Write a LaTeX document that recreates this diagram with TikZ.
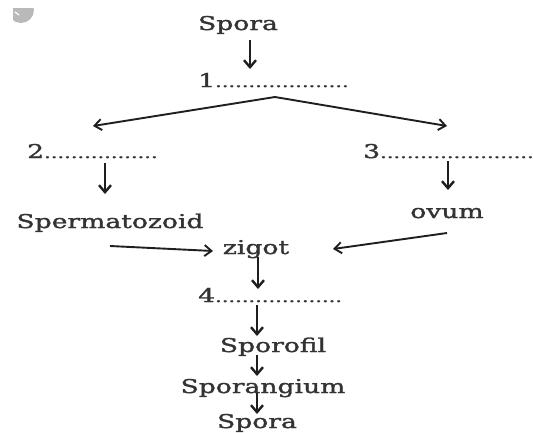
\documentclass[tikz,border=0pt]{standalone}
\usepackage{fontspec}
\setmainfont[FakeBold=1.3]{DejaVu Serif}
\usetikzlibrary{arrows.meta}
\newcommand\wtxt[1]{\scalebox{1.4}[1]{#1}}
\newcommand\dotsN[1]{{\fontsize{15}{18}\selectfont\foreach \i in {1,...,#1}{.}}}
\tikzset{
  lbl/.style={font=\fontsize{19}{22}\selectfont, text=black!80, inner sep=0pt},
  arr/.style={draw=black!88, line width=2.4pt, -{Straight Barb[length=7pt,width=12pt,line width=2.4pt]}},
  sarr/.style={draw=black!88, line width=1.9pt, -{Straight Barb[length=7pt,width=11pt,line width=1.9pt]}}
}
\begin{document}
\begin{tikzpicture}[x=1pt,y=-1pt]
\useasboundingbox (0,0) rectangle (533,432);
% grey corner mark
\begin{scope}
\clip (13,8) rectangle (40,30);
\fill[gray!55] (21,10) circle (13);
\end{scope}
\draw[white, line width=1.2pt, line cap=round] (15,12) -- (19,15);
% labels
\node[lbl, anchor=base] (spora1) at (238,30) {\wtxt{Spora}};
\node[lbl, anchor=base west] (n1) at (198,87) {\wtxt{1\dotsN{20}}};
\node[lbl, anchor=base west] (n2) at (27,158) {\wtxt{2\dotsN{17}}};
\node[lbl, anchor=base west] (n3) at (363,158) {\wtxt{3\dotsN{23}}};
\node[lbl, anchor=base] (sperm) at (110,228) {\wtxt{Spermatozoid}};
\node[lbl, anchor=base] (ovum) at (447,218) {\wtxt{ovum}};
\node[lbl, anchor=base] (zigot) at (256,254) {\wtxt{zigot}};
\node[lbl, anchor=base west] (n4) at (198,302) {\wtxt{4\dotsN{19}}};
\node[lbl, anchor=base] (sporofil) at (273,352) {\wtxt{Sporofil}};
\node[lbl, anchor=base] (sporangium) at (263,393) {\wtxt{Sporangium}};
\node[lbl, anchor=base] (spora2) at (257,428) {\wtxt{Spora}};
% arrow end points
\coordinate (a1s) at (250,40);  \coordinate (a1e) at (250,69);
\coordinate (apex) at (275,97);
\coordinate (l2) at (93,126);   \coordinate (r3) at (447,126);
\coordinate (a3s) at (105,163); \coordinate (a3e) at (105,194);
\coordinate (a4s) at (448,161); \coordinate (a4e) at (448,190);
\coordinate (a5s) at (110,246); \coordinate (a5e) at (213,251);
\coordinate (a6s) at (447,233); \coordinate (a6e) at (333,249);
\coordinate (a7s) at (258,257); \coordinate (a7e) at (258,289);
\coordinate (a8s) at (257,305); \coordinate (a8e) at (257,336);
\coordinate (a9s) at (257,355); \coordinate (a9e) at (257,376);
\coordinate (a10s) at (257,393); \coordinate (a10e) at (257,414);
% connectors
\draw[arr] (a1s) -- (a1e);
\draw[sarr] (apex) -- (l2);
\draw[sarr] (apex) -- (r3);
\draw[arr] (a3s) -- (a3e);
\draw[arr] (a4s) -- (a4e);
\draw[sarr] (a5s) -- (a5e);
\draw[sarr] (a6s) -- (a6e);
\draw[arr] (a7s) -- (a7e);
\draw[arr] (a8s) -- (a8e);
\draw[arr] (a9s) -- (a9e);
\draw[arr] (a10s) -- (a10e);
\end{tikzpicture}
\end{document}
